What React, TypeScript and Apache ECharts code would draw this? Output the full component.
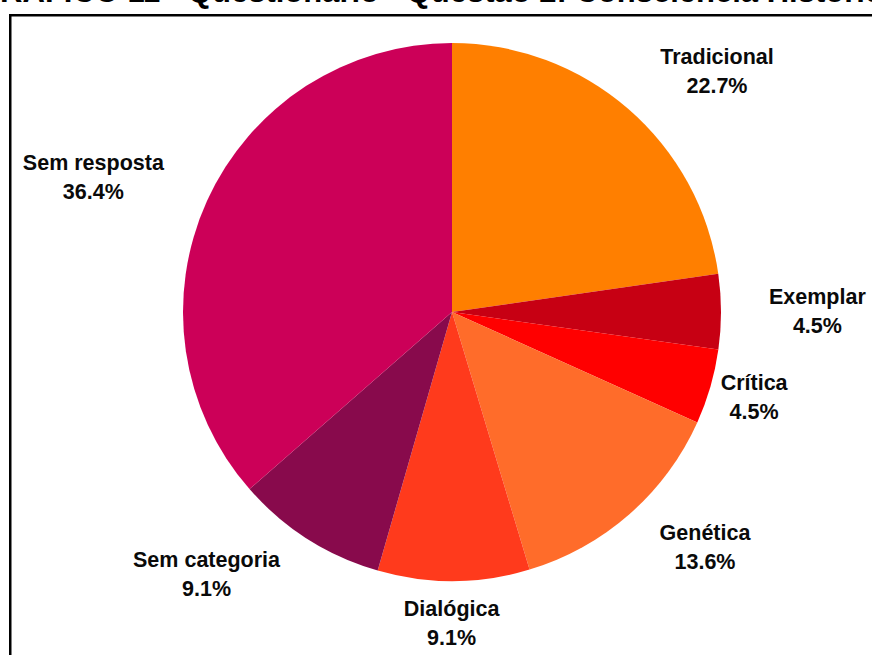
import React, { useEffect, useRef } from "react";
import * as echarts from "echarts";

const categories = ["Tradicional", "Exemplar", "Crítica", "Genética", "Dialógica", "Sem categoria", "Sem resposta"];
const percentages = [22.7, 4.5, 4.5, 13.6, 9.1, 9.1, 36.4];
const sliceColors = ["#FF7F00", "#C70013", "#FF0000", "#FF6C2A", "#FF3A1C", "#880A4C", "#CC0058"];
const titleText = "GRÁFICO 11 - Questionário - Questão 2: Consciência Histórica";

// label nudges (pixels) relative to library's default outside label position
const labelNudges: [number, number][] = [
  [14, -22],
  [23, 0],
  [-14, 5],
  [12, 18],
  [-55, 23],
  [-12, 19],
  [-20, -15],
];

const FONT = '"Liberation Sans", Arial, Helvetica, sans-serif';

export default function App() {
  const ref = useRef<HTMLDivElement>(null);
  useEffect(() => {
    if (!ref.current) return;
    const chart = echarts.init(ref.current, undefined, { renderer: "svg" });
    chart.setOption({
      animation: false,
      backgroundColor: "#ffffff",
      graphic: [
        {
          type: "text",
          left: -24,
          top: -24,
          style: {
            text: titleText,
            font: `bold 31px ${FONT}`,
            fill: "#000000",
          },
        },
        {
          type: "rect",
          shape: { x: 10.25, y: 15.25, width: 900, height: 700 },
          style: { fill: "none", stroke: "#000000", lineWidth: 2.5 },
        },
      ],
      series: [
        {
          type: "pie",
          center: [452, 312],
          radius: 269,
          startAngle: 90,
          clockwise: true,
          avoidLabelOverlap: false,
          itemStyle: { borderWidth: 0 },
          label: {
            show: true,
            position: "outside",
            formatter: "{b}\n{c}%",
            fontFamily: FONT,
            fontWeight: "bold",
            fontSize: 21.5,
            lineHeight: 29,
            color: "#0a0a0a",
          },
          labelLine: { show: false, length: 20, length2: 0 },
          labelLayout: (params: any) => {
            const n = labelNudges[params.dataIndex] || [0, 0];
            const r = params.labelRect;
            return {
              x: r.x + r.width / 2 + n[0],
              y: r.y + r.height / 2 + n[1],
              align: "center",
              verticalAlign: "middle",
            };
          },
          emphasis: { disabled: true },
          data: categories.map((name, i) => ({
            name,
            value: percentages[i],
            itemStyle: { color: sliceColors[i] },
          })),
        },
      ],
    });
    return () => chart.dispose();
  }, []);
  return (
    <div
      ref={ref}
      style={{ position: "fixed", left: 0, top: 0, width: 872, height: 655 }}
    />
  );
}
